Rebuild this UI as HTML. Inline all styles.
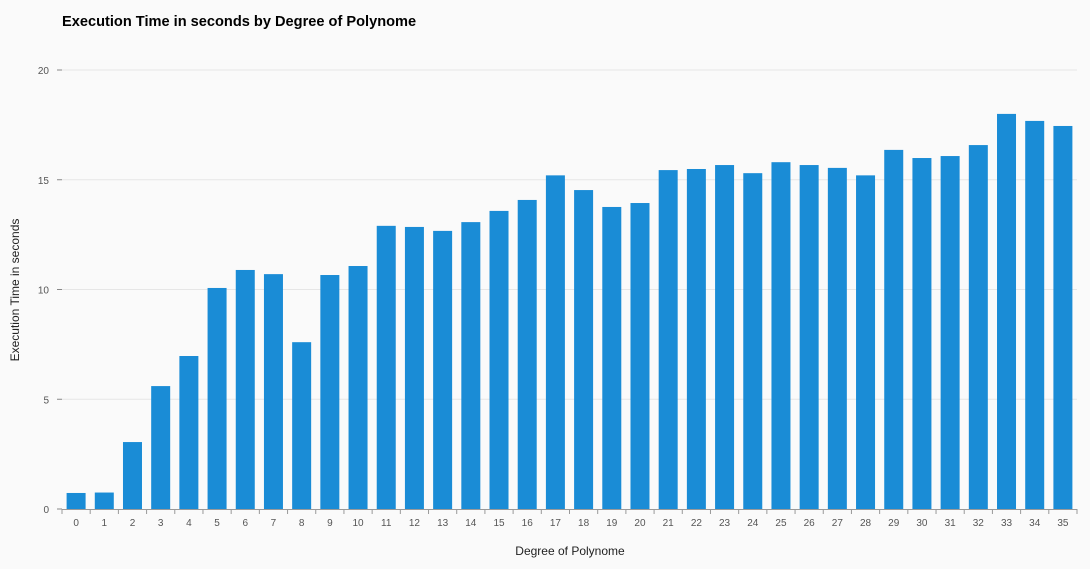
<!DOCTYPE html>
<html><head><meta charset="utf-8"><style>
body{margin:0;background:#fafafa;font-family:"Liberation Sans",sans-serif}
</style></head><body>
<svg width="1090" height="564">
<text x="62" y="26" font-size="14.6" font-weight="bold" fill="#000">Execution Time in seconds by Degree of Polynome</text>
<g id="grid"></g><g id="bars"></g><g id="axes"></g>
<text x="570" y="555" font-size="12" text-anchor="middle" fill="#222">Degree of Polynome</text>
<text transform="translate(19,290) rotate(-90)" font-size="12" text-anchor="middle" fill="#222">Execution Time in seconds</text>
</svg>
<script>
const categories=[0,1,2,3,4,5,6,7,8,9,10,11,12,13,14,15,16,17,18,19,20,21,22,23,24,25,26,27,28,29,30,31,32,33,34,35];
const values=[0.73,0.75,3.05,5.6,6.97,10.07,10.89,10.7,7.6,10.66,11.07,12.9,12.85,12.67,13.07,13.58,14.08,15.2,14.53,13.76,13.94,15.44,15.49,15.67,15.3,15.8,15.67,15.54,15.2,16.36,15.99,16.08,16.58,18.0,17.68,17.45];
const yTicks=[0,5,10,15,20];
const NS="http://www.w3.org/2000/svg";
const x0=62,x1=1077,y0=509,yTop=70,yMax=20;
const band=(x1-x0)/categories.length;
const xs=i=>x0+band*i;
const ys=v=>y0-(y0-yTop)*v/yMax;
function mk(t,a,p){const e=document.createElementNS(NS,t);for(const k in a)e.setAttribute(k,a[k]);p.appendChild(e);return e;}
const grid=document.getElementById('grid'),bars=document.getElementById('bars'),axes=document.getElementById('axes');
yTicks.forEach(t=>{
  const y=ys(t);
  if(t>0){const g=mk('line',{x1:x0,x2:x1,y1:y,y2:y,stroke:'#e6e6e6'},grid);
  
  }
  mk('line',{x1:x0-5,x2:x0,y1:y,y2:y,stroke:'#888'},axes);
  const l=mk('text',{x:x0-13,y:y+4,'font-size':10,'text-anchor':'end',fill:'#555'},axes);
  l.textContent=t;
  
  
});
const ax=mk('line',{x1:x0,x2:x1,y1:y0+0.5,y2:y0+0.5,stroke:'#999'},axes);


categories.forEach((c,i)=>{
  const bw=19,cx=xs(i)+band/2;
  const r=mk('rect',{x:cx-bw/2,y:ys(values[i]),width:bw,height:y0-ys(values[i]),fill:'#1a8cd6'},bars);
  
  
  mk('line',{x1:xs(i),x2:xs(i),y1:y0,y2:y0+5,stroke:'#999'},axes);
  const l=mk('text',{x:cx,y:y0+17,'font-size':10,'text-anchor':'middle',fill:'#555'},axes);
  l.textContent=c;
  
  
});
mk('line',{x1:x1,x2:x1,y1:y0,y2:y0+5,stroke:'#999'},axes);
</script>
</body></html>
